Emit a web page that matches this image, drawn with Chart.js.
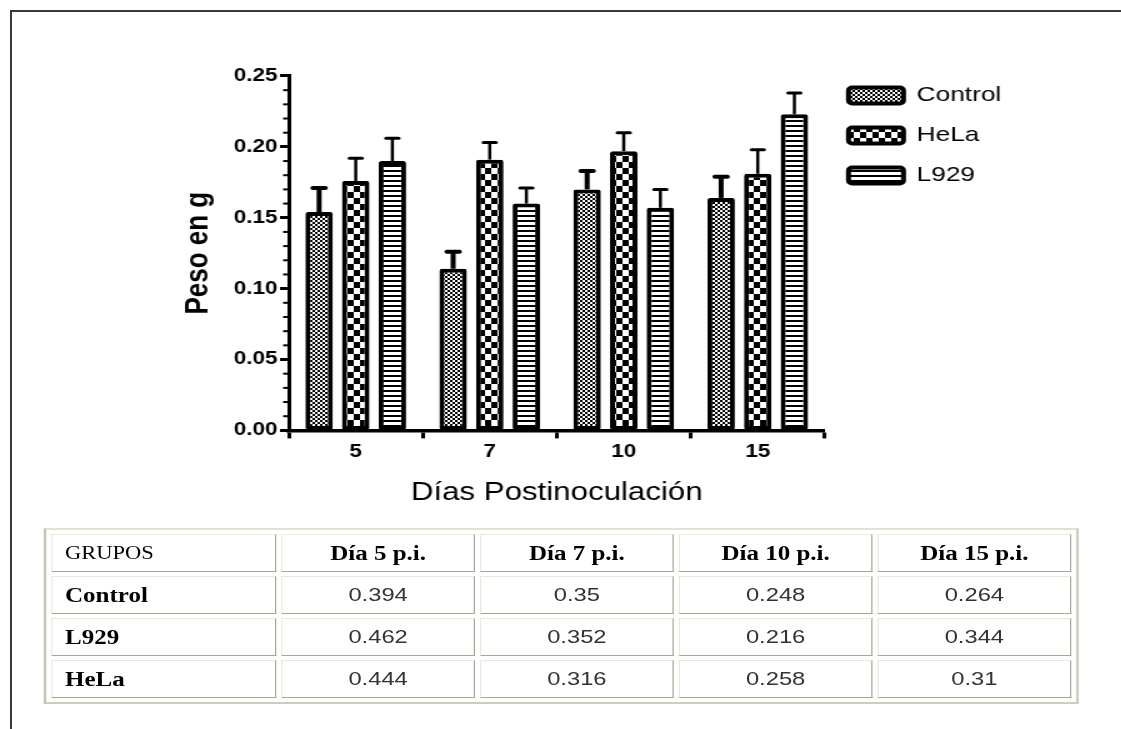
<!DOCTYPE html>
<html>
<head>
<meta charset="utf-8">
<script src="https://cdn.jsdelivr.net/npm/chart.js@4.4.0/dist/chart.umd.min.js"></script>
<style>
  html, body { margin: 0; padding: 0; background: #fff; width: 1121px; height: 729px; overflow: hidden; }
  #marco { position: absolute; left: 10px; top: 10px; width: 1200px; height: 800px; border-left: 2px solid #3a3a3a; border-top: 2px solid #3a3a3a; }
  /* la imagen original esta estirada en horizontal */
  #escena { position: absolute; left: 0; top: 0; width: 897px; height: 729px; transform: scaleX(1.25); transform-origin: 0 0; }
  #grafico { position: absolute; left: 128px; top: 60px; }
  #tabla { position: absolute; left: 35px; top: 528px; table-layout: fixed; border-collapse: separate; border-spacing: 4px 4px;
           border: 2px solid; border-color: #e4e1d4 #cfccbe #cfccbe #c6c3b5; }
  #tabla td { box-sizing: border-box; height: 38px; padding: 0 10px; border: 1px solid; border-color: #ebe9dc #a9a697 #a9a697 #ebe9dc;
              font-family: "Liberation Sans", Arial, sans-serif; font-size: 19px; color: #333; text-align: center; white-space: nowrap; }
  #tabla td.cab { font-family: "Liberation Serif", "DejaVu Serif", serif; font-size: 20px; font-weight: bold; color: #000; }
  #tabla td.izq { text-align: left; }
  #tabla td.grupos { font-size: 18px; font-weight: normal; }
</style>
</head>
<body>
<div id="marco"></div>
<div id="escena">
  <canvas id="grafico" width="695" height="451"></canvas>
  <table id="tabla"></table>
</div>
<script>
// Datos del grafico
const dias = ["5", "7", "10", "15"];
const pesoControl = [0.154, 0.114, 0.170, 0.164];
const pesoHeLa = [0.176, 0.191, 0.197, 0.181];
const pesoL929 = [0.190, 0.160, 0.157, 0.223];
const errorControl = [0.017, 0.012, 0.013, 0.015];
const errorHeLa = [0.016, 0.012, 0.013, 0.017];
const errorL929 = [0.016, 0.011, 0.013, 0.015];

// Datos de la tabla
const columnasTabla = ["GRUPOS", "Día 5 p.i.", "Día 7 p.i.", "Día 10 p.i.", "Día 15 p.i."];
const gruposTabla = ["Control", "L929", "HeLa"];
const tablaControl = [0.394, 0.35, 0.248, 0.264];
const tablaL929 = [0.462, 0.352, 0.216, 0.344];
const tablaHeLa = [0.444, 0.316, 0.258, 0.31];

// Construir la tabla
const tabla = document.getElementById("tabla");
const anchos = [180, 155, 155, 155, 155];
function fila(celdas, esCabecera)
{
  const tr = document.createElement("tr");
  celdas.forEach((texto, i) =>
  {
    const td = document.createElement("td");
    td.textContent = texto;
    td.style.width = anchos[i] + "px";
    if (esCabecera || i === 0) td.className = "cab";
    if (i === 0) td.className += " izq";
    if (esCabecera && i === 0) td.className += " grupos";
    tr.appendChild(td);
  });
  tabla.appendChild(tr);
}
fila(columnasTabla, true);
[tablaControl, tablaL929, tablaHeLa].forEach((valores, i) =>
{
  fila([gruposTabla[i]].concat(valores.map(v => String(v))), false);
});

// Tramas de relleno
const ctx = document.getElementById("grafico").getContext("2d");
function trama(w, h, dibujar)
{
  const c = document.createElement("canvas");
  c.width = w;
  c.height = h;
  const g = c.getContext("2d");
  g.fillStyle = "#fff";
  g.fillRect(0, 0, w, h);
  g.fillStyle = "#000";
  dibujar(g);
  return ctx.createPattern(c, "repeat");
}
const tramaControl = trama(4, 4, g => { g.fillRect(0, 0, 2, 2); g.fillRect(2, 2, 2, 2); });
const tramaHeLa = trama(10, 12, g => { g.fillRect(0, 0, 5, 6); g.fillRect(5, 6, 5, 6); });
const tramaL929 = trama(4, 5, g => { g.fillRect(0, 0, 4, 2); });

// Barras de error
const barrasError =
{
  id: "barrasError",
  afterDatasetsDraw(chart)
  {
    const c = chart.ctx;
    const escalaY = chart.scales.y;
    chart.data.datasets.forEach((ds, i) =>
    {
      chart.getDatasetMeta(i).data.forEach((barra, j) =>
      {
        const tope = escalaY.getPixelForValue(ds.data[j] + ds.errores[j]);
        c.save();
        c.strokeStyle = "#000";
        c.lineWidth = ds.grosorError;
        c.beginPath();
        c.moveTo(barra.x, barra.y);
        c.lineTo(barra.x, tope);
        c.stroke();
        c.lineWidth = ds.grosorError === 4 ? 4 : 3;
        c.lineCap = "round";
        c.beginPath();
        c.moveTo(barra.x - 5, tope);
        c.lineTo(barra.x + 5, tope);
        c.stroke();
        c.restore();
      });
    });
  }
};

// Marcas menores del eje Y (cada 0.01)
const marcasMenores =
{
  id: "marcasMenores",
  afterDraw(chart)
  {
    const c = chart.ctx;
    const escalaY = chart.scales.y;
    c.save();
    c.strokeStyle = "#000";
    c.lineWidth = 2;
    for (let k = 1; k < 25; k++)
    {
      if (k % 5 === 0) continue;
      const py = escalaY.getPixelForValue(k / 100);
      c.beginPath();
      c.moveTo(escalaY.right - 4.5, py);
      c.lineTo(escalaY.right, py);
      c.stroke();
    }
    c.restore();
  }
};

Chart.defaults.font.family = '"Liberation Sans", Arial, sans-serif';
Chart.defaults.color = "#000";

new Chart(ctx,
{
  type: "bar",
  data:
  {
    labels: dias,
    datasets: [
    {
      label: "Control",
      data: pesoControl,
      errores: errorControl,
      grosorError: 4,
      backgroundColor: tramaControl,
      borderColor: "#000",
      borderWidth: 4,
      borderRadius: 2,
      borderSkipped: false
    },
    {
      label: "HeLa",
      data: pesoHeLa,
      errores: errorHeLa,
      grosorError: 2.5,
      backgroundColor: tramaHeLa,
      borderColor: "#000",
      borderWidth: 4,
      borderRadius: 2,
      borderSkipped: false
    },
    {
      label: "L929",
      data: pesoL929,
      errores: errorL929,
      grosorError: 2.5,
      backgroundColor: tramaL929,
      borderColor: "#000",
      borderWidth: 4,
      borderRadius: 2,
      borderSkipped: false
    }]
  },
  options:
  {
    responsive: false,
    animation: false,
    layout: { padding: { top: 6, left: 0, right: 12, bottom: 0 } },
    datasets: { bar: { categoryPercentage: 0.82, barPercentage: 0.75 } },
    plugins:
    {
      title: { display: true, text: "", fullSize: false, padding: 0, font: { size: 8.33 } },
      legend:
      {
        position: "right",
        align: "start",
        labels:
        {
          boxWidth: 44,
          boxHeight: 16,
          padding: 19,
          font: { size: 21 },
          color: "#000",
          useBorderRadius: true,
          borderRadius: 3
        }
      },
      tooltip: { enabled: false }
    },
    scales:
    {
      x:
      {
        grid: { drawOnChartArea: false, tickLength: 8, tickWidth: 3, tickColor: "#000" },
        border: { color: "#000", width: 3.5 },
        ticks: { font: { size: 18, weight: "bold" }, color: "#000", padding: 3 },
        title: { display: true, text: "Días Postinoculación", font: { size: 25 }, color: "#000", padding: { top: 12, bottom: 3 } }
      },
      y:
      {
        min: 0,
        max: 0.25,
        ticks: { stepSize: 0.05, callback: v => v.toFixed(2), font: { size: 18, weight: "bold" }, color: "#000", padding: 2 },
        grid: { drawOnChartArea: false, tickLength: 7, tickWidth: 3, tickColor: "#000" },
        border: { color: "#000", width: 3 },
        title: { display: true, text: "Peso en g", font: { size: 26, weight: "bold" }, color: "#000", padding: { top: 15, bottom: 0 } },
        afterFit: s => { s.width = 103; }
      }
    }
  },
  plugins: [barrasError, marcasMenores]
});
</script>
</body>
</html>
